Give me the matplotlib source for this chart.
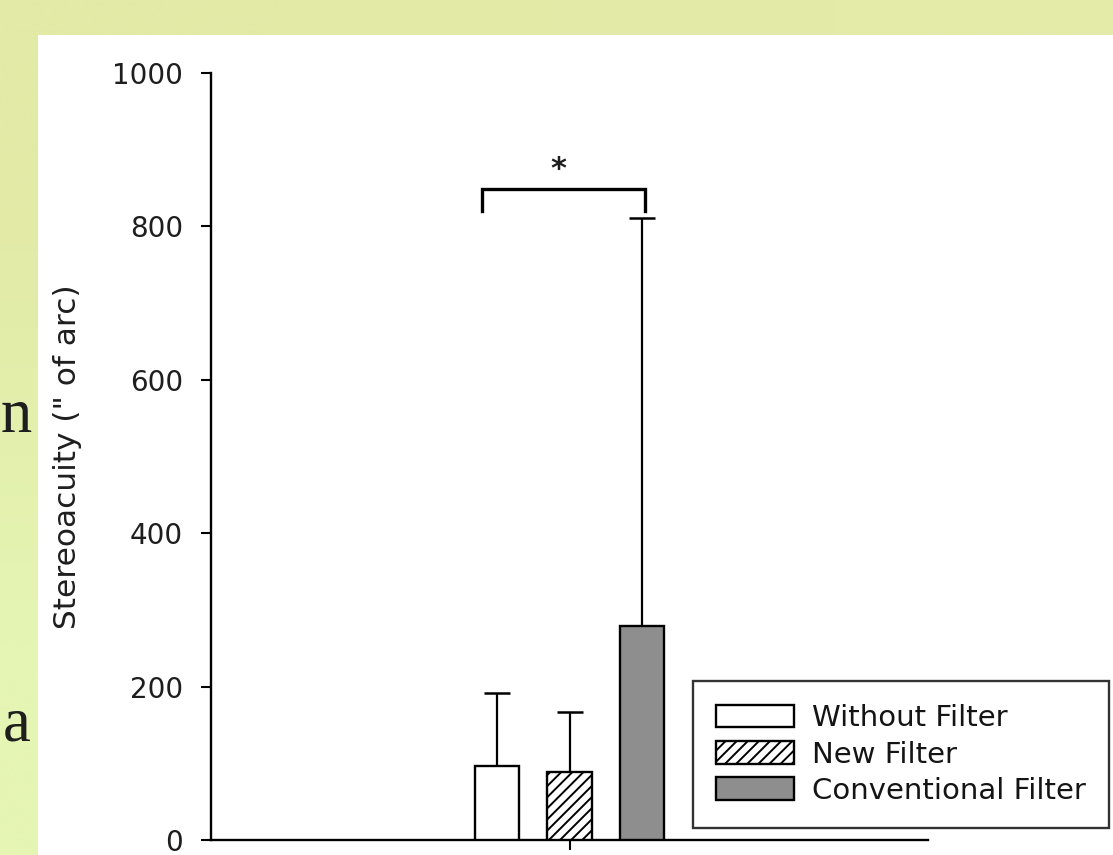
import numpy as np
import matplotlib
matplotlib.use("Agg")
import matplotlib.pyplot as plt
from matplotlib.patches import Rectangle, Patch

# ---- data ----
categories = ["Without Filter", "New Filter", "Conventional Filter"]
means = [97, 89, 279]
upper_err = [95, 78, 532]
yticks = [0, 200, 400, 600, 800, 1000]
ylabel = 'Stereoacuity (" of arc)'
bracket_y = [820, 849]
sig_text = "*"

plt.rcParams['font.family'] = ['DejaVu Sans']
plt.rcParams['hatch.linewidth'] = 1.4

W, H = 1113, 855
fig = plt.figure(figsize=(W / 100, H / 100), dpi=100)

# background gradient (slide)
bg = fig.add_axes([0, 0, 1, 1], zorder=-10)
grad = np.array([[[226, 234, 166], [228, 235, 168]],
                 [[229, 245, 180], [228, 240, 172]]]) / 255.0
bg.imshow(grad, aspect='auto', interpolation='bilinear', extent=[0, 1, 0, 1])
bg.set_axis_off()
bg.set_xlim(0, 1)
bg.set_ylim(0, 1)
# white panel
bg.add_patch(Rectangle((38 / W, 0), 1 - 38 / W, (H - 35) / H, facecolor='white',
                       edgecolor='none', transform=bg.transAxes, zorder=2))
# slide text fragments
fig.text(1 / W, (H - 432) / H, "n", family='Liberation Serif', fontsize=45,
         ha='left', va='baseline', color='#1e1e1e')
fig.text(3 / W, (H - 740) / H, "a", family='Liberation Serif', fontsize=45,
         ha='left', va='baseline', color='#1e1e1e')

ax = fig.add_axes([211 / W, (H - 840) / H, (928 - 211) / W, (840 - 73) / H])
ax.set_facecolor('none')

x = np.array([-1.0, 0.0, 1.0])
width = 0.61
fills = ['white', 'white', '#8e8e8e']
hatches = [None, '///', None]
for xi, m, f, h in zip(x, means, fills, hatches):
    ax.bar(xi, m, width=width, color=f, edgecolor='black', linewidth=1.7,
           hatch=h, zorder=3)
ax.errorbar(x, means, yerr=[np.zeros(3), upper_err], fmt='none', ecolor='black',
            elinewidth=1.6, capsize=9.4, capthick=1.8, zorder=2)

# significance bracket
bx0, bx1 = -1.21, 1.05
ax.plot([bx0, bx0, bx1, bx1], [bracket_y[0], bracket_y[1], bracket_y[1], bracket_y[0]],
        color='black', lw=2.4, solid_joinstyle='miter', zorder=4)
ax.text(-0.15, 874, sig_text, ha='center', va='center', fontsize=22,
        fontweight='bold', color='#1e1e1e')

ax.set_xlim(-4.97, 4.97)
ax.set_ylim(0, 1000)
ax.set_yticks(yticks)
ax.set_yticklabels([str(t) for t in yticks], fontsize=20, color='#1e1e1e')
ax.set_xticks([0])
ax.set_xticklabels([''])
ax.tick_params(axis='both', direction='out', length=7.2, width=1.5, color='black')
ax.tick_params(axis='y', pad=13)
for s in ['top', 'right']:
    ax.spines[s].set_visible(False)
for s in ['left', 'bottom']:
    ax.spines[s].set_linewidth(1.7)
    ax.spines[s].set_color('black')

ax.set_ylabel(ylabel, fontsize=22.5, color='#1e1e1e')
ax.yaxis.set_label_coords((82 - 211) / 717, 0.5)

handles = [Patch(facecolor=f, edgecolor='black', linewidth=1.7, hatch=h, label=c)
           for f, h, c in zip(fills, hatches, categories)]
leg = ax.legend(handles=handles, loc='lower right',
                bbox_to_anchor=(1109 / W, 27 / H), bbox_transform=fig.transFigure,
                borderaxespad=0, fontsize=21, frameon=True, fancybox=False,
                edgecolor='black', handlelength=2.65, handleheight=0.8,
                handletextpad=0.62, labelspacing=0.28, borderpad=0.8)
leg.get_frame().set_linewidth(1.7)
for t in leg.get_texts():
    t.set_color('#141414')

fig.savefig("out.png", dpi=100)
